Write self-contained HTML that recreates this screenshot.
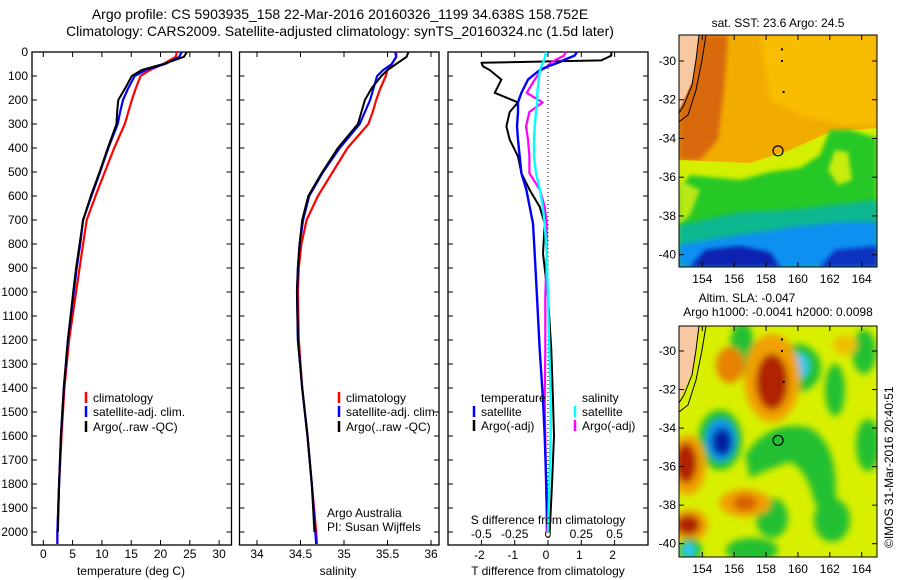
<!DOCTYPE html>
<html><head><meta charset="utf-8"><style>
body{margin:0;background:#fff}
svg{display:block;font-family:"Liberation Sans",sans-serif}
</style></head><body>
<svg id="fig" width="900" height="580" viewBox="0 0 900 580">
<defs>
<filter id="blur6" x="-50%" y="-50%" width="200%" height="200%"><feGaussianBlur stdDeviation="3.5"/></filter>
<filter id="blur3"><feGaussianBlur stdDeviation="2"/></filter>
<clipPath id="clipMap1"><rect x="679" y="35" width="198" height="232"/></clipPath>
<clipPath id="clipMap2"><rect x="679" y="326" width="198" height="231"/></clipPath>
</defs>
<text x="340" y="19" font-size="14" text-anchor="middle">Argo profile: CS 5903935_158 22-Mar-2016 20160326_1199 34.638S 158.752E</text>
<text x="340" y="36" font-size="14" text-anchor="middle">Climatology: CARS2009. Satellite-adjusted climatology: synTS_20160324.nc (1.5d later)</text>
<g id="p1"></g>
<g id="p2"></g>
<g id="p3"></g>

<!-- Map 1 SST -->
<g>
<g clip-path="url(#clipMap1)">
<rect x="679" y="35" width="198" height="232" fill="#f2ac00"/>
<polygon points="679,35 728,35 724,90 718,140 700,160 679,160" fill="#d86a10" filter="url(#blur3)"/>
<polygon points="760,35 877,35 877,125 840,125 800,115 770,100" fill="#f8bc00" filter="url(#blur3)"/>
<polygon points="679,160 750,163 790,150 830,132 877,128 877,267 679,267" fill="#d4f000"/>
<polygon points="690,175 740,180 770,172 800,168 820,155 830,130 850,130 877,138 877,267 679,267 679,190" fill="#28c828" filter="url(#blur3)"/>
<polygon points="835,150 848,152 852,180 838,185 828,170" fill="#c8ec10" filter="url(#blur3)"/>
<polygon points="679,180 700,190 690,215 679,225" fill="#b8e818" filter="url(#blur3)"/>
<polygon points="679,225 740,212 790,210 830,205 877,200 877,267 679,267" fill="#10b890" filter="url(#blur3)"/>
<polygon points="679,245 720,238 760,232 800,226 840,222 877,222 877,267 679,267" fill="#1090f0" filter="url(#blur3)"/>
<polygon points="690,267 705,250 740,246 770,252 780,267" fill="#1020b0" filter="url(#blur3)"/>
<polygon points="820,267 835,250 877,246 877,267" fill="#1030c0" filter="url(#blur3)"/>
<polygon points="679,35 699,35 693,80 679,110" fill="#f8c8a0"/>
<polyline points="699,35 696,60 692,85 684,105 679,113" fill="none" stroke="#000" stroke-width="1"/>
<polyline points="706,35 702,60 696,90 688,115 679,122" fill="none" stroke="#000" stroke-width="1"/>
</g>
<rect x="679" y="35" width="198" height="232" fill="none" stroke="#000"/>
<text x="778" y="27" font-size="12" text-anchor="middle">sat. SST: 23.6 Argo: 24.5</text>
</g>

<!-- Map 2 SLA -->
<g>
<g clip-path="url(#clipMap2)">
<rect x="679" y="326" width="198" height="231" fill="#d8f000"/>
<g filter="url(#blur6)">
<ellipse cx="742" cy="348" rx="12" ry="26" fill="#20c030"/>
<ellipse cx="797" cy="368" rx="24" ry="24" fill="#20c030"/>
<ellipse cx="797" cy="366" rx="12" ry="13" fill="#40c8f0"/>
<ellipse cx="864" cy="352" rx="12" ry="22" fill="#20c030"/>
<ellipse cx="835" cy="390" rx="10" ry="26" fill="#20c030"/>
<ellipse cx="868" cy="445" rx="12" ry="26" fill="#20c030"/>
<path d="M745,455 Q770,418 810,428 Q840,445 835,505 L815,505 Q808,470 790,462 Q770,468 750,478 Z" fill="#20c030"/>
<ellipse cx="772" cy="518" rx="16" ry="20" fill="#20c030"/>
<ellipse cx="832" cy="520" rx="18" ry="22" fill="#20c030"/>
<ellipse cx="752" cy="550" rx="26" ry="12" fill="#20c030"/>
<ellipse cx="720" cy="440" rx="22" ry="30" fill="#20c030"/>
<ellipse cx="721" cy="440" rx="15" ry="21" fill="#1090f0"/>
<ellipse cx="722" cy="442" rx="10" ry="14" fill="#0020a0"/>
<ellipse cx="772" cy="378" rx="28" ry="44" fill="#f0a000"/>
<ellipse cx="772" cy="382" rx="16" ry="28" fill="#b02000"/>
<ellipse cx="730" cy="365" rx="14" ry="18" fill="#e88000"/>
<ellipse cx="688" cy="465" rx="18" ry="30" fill="#f0a000"/>
<ellipse cx="686" cy="463" rx="11" ry="20" fill="#b02000"/>
<ellipse cx="745" cy="503" rx="26" ry="14" fill="#f0a000"/>
<ellipse cx="745" cy="503" rx="12" ry="8" fill="#d86000"/>
<ellipse cx="690" cy="525" rx="18" ry="16" fill="#f0a000"/>
<ellipse cx="688" cy="525" rx="12" ry="10" fill="#b02000"/>
<ellipse cx="845" cy="345" rx="12" ry="10" fill="#f0c000"/>
<ellipse cx="690" cy="550" rx="12" ry="12" fill="#20c030"/>
<ellipse cx="689" cy="550" rx="6" ry="7" fill="#30c8f8"/>
</g>
<polygon points="679,326 699,326 693,370 679,400" fill="#f8c8a0"/>
<polyline points="699,326 696,350 692,375 684,395 679,403" fill="none" stroke="#000" stroke-width="1"/>
<polyline points="706,326 702,350 696,380 688,405 679,412" fill="none" stroke="#000" stroke-width="1"/>
</g>
<rect x="679" y="326" width="198" height="231" fill="none" stroke="#000"/>
<text x="747" y="302" font-size="12" text-anchor="middle">Altim. SLA: -0.047</text>
<text x="778" y="316" font-size="12" text-anchor="middle">Argo h1000: -0.0041 h2000: 0.0098</text>
</g>
<text x="0" y="0" font-size="12" transform="translate(893,548) rotate(-90)">©IMOS 31-Mar-2016 20:40:51</text>
<g id="mapAxes"></g>
</svg>
<script>
// ---- data ----
const depths = [0,20,50,75,100,150,200,250,300,400,500,600,700,800,900,1000,1200,1400,1600,1800,2000,2050];
const tempClim = [22.8,22.6,20.5,18.2,16.6,15.8,15.1,14.5,13.9,12.1,10.5,8.9,7.4,6.8,6.2,5.6,4.4,3.6,3.1,2.7,2.4,2.4];
const tempSat  = [23.6,23.2,20.8,17.5,15.6,14.5,13.6,13.1,12.7,11.1,9.7,8.2,6.8,6.3,5.7,5.2,4.2,3.5,3.0,2.7,2.4,2.4];
const tempArgo = [24.5,24.0,20.5,16.8,15.1,14.0,12.8,12.6,12.5,11.0,9.6,8.1,6.8,6.2,5.6,5.1,4.2,3.5,3.0,2.7,2.5,2.5];
const salClim = [35.6,35.6,35.55,35.5,35.48,35.42,35.37,35.33,35.28,35.04,34.87,34.7,34.57,34.51,34.48,34.47,34.48,34.52,34.58,34.63,34.68,34.69];
const salSat  = [35.59,35.6,35.55,35.45,35.38,35.34,35.3,35.24,35.18,34.95,34.76,34.6,34.53,34.49,34.47,34.46,34.47,34.52,34.58,34.63,34.67,34.68];
const salArgo = [35.74,35.72,35.6,35.5,35.43,35.32,35.24,35.2,35.16,34.93,34.75,34.59,34.52,34.49,34.47,34.46,34.47,34.52,34.58,34.63,34.66,34.66];
const diffDepths = [0,15,35,45,60,75,115,170,210,250,310,365,435,505,575,645,715,840,1020,1240,1450,1600,1800,2000];
const tDiffArgo = [1.9,1.9,1.6,-2.0,-1.95,-1.75,-1.4,-1.6,-0.9,-1.15,-1.25,-1.15,-0.9,-0.8,-0.55,-0.25,-0.1,-0.15,0.0,0.1,0.15,0.18,0.12,0.05];
const tDiffSat  = [0.87,0.8,0.45,0.3,0.0,-0.25,-0.6,-0.8,-0.9,-0.9,-0.93,-0.9,-0.85,-0.8,-0.65,-0.55,-0.45,-0.4,-0.33,-0.25,-0.15,-0.1,-0.05,0.0];
const sDiffArgo = [0.135,0.12,0.05,0.02,0.0,-0.05,-0.1,-0.16,-0.04,-0.14,-0.165,-0.15,-0.14,-0.14,-0.06,-0.025,-0.01,-0.01,-0.02,-0.02,-0.025,-0.02,-0.015,-0.01];
const sDiffSat  = [-0.015,-0.02,-0.03,-0.04,-0.05,-0.06,-0.07,-0.08,-0.08,-0.09,-0.1,-0.105,-0.105,-0.09,-0.06,-0.04,-0.025,-0.01,0.0,0.01,0.02,0.02,0.01,0.0];
const depthTicks = [0,100,200,300,400,500,600,700,800,900,1000,1100,1200,1300,1400,1500,1600,1700,1800,1900,2000];
const tempTicks = [0,5,10,15,20,25,30];
const salTicks = [34,34.5,35,35.5,36];
const tDiffTicks = [-2,-1,0,1,2];
const sDiffTicks = [-0.5,-0.25,0,0.25,0.5];
const lonTicks = [154,156,158,160,162,164];
const latTicks = [-30,-32,-34,-36,-38,-40];
const floatPos = [158.752,-34.638];

const NS='http://www.w3.org/2000/svg';
function mk(tag,attrs,parent){const e=document.createElementNS(NS,tag);for(const k in attrs)e.setAttribute(k,attrs[k]);parent.appendChild(e);return e;}
const yD = d => 52 + d*0.24;
const TOP=52, BOT=545;
const xT = t => 43.3 + t*5.86;
const xS = s => 257 + (s-34)*87;
const xDT = t => 548 + t*33.3;
const xDS = s => xDT(s*4);

function frame(g,x0,x1){
  const r=mk('rect',{x:x0,y:TOP,width:x1-x0,height:BOT-TOP,fill:'none',stroke:'#000','stroke-width':1.3},g);
  
  
  depthTicks.forEach(d=>{
    mk('line',{x1:x0,x2:x0+5,y1:yD(d),y2:yD(d),stroke:'#000'},g);
    mk('line',{x1:x1-5,x2:x1,y1:yD(d),y2:yD(d),stroke:'#000'},g);
  });
}
function xticks(g,ticks,fx,y,labelY){
  ticks.forEach(t=>{
    mk('line',{x1:fx(t),x2:fx(t),y1:TOP,y2:TOP+5,stroke:'#000'},g);
    mk('line',{x1:fx(t),x2:fx(t),y1:BOT-5,y2:BOT,stroke:'#000'},g);
    const tx=mk('text',{x:fx(t),y:labelY,'font-size':12,'text-anchor':'middle'},g);
    tx.textContent=String(t);
    
    
  });
}
function line(g,xs,ds,fx,color,w,name){
  const pts=xs.map((v,i)=>fx(v).toFixed(1)+','+yD(ds[i]).toFixed(1)).join(' ');
  const p=mk('polyline',{points:pts,fill:'none',stroke:color,'stroke-width':w,'stroke-linejoin':'round'},g);
  
  
}
function label(g,x,y,txt,name,anchor){
  const t=mk('text',{x:x,y:y,'font-size':12,'text-anchor':anchor||'start'},g);
  t.textContent=txt;
  
  
  return t;
}
function legend(g,x,y,color,txt,name){
  const l=mk('line',{x1:x,x2:x,y1:y-10,y2:y+1,stroke:color,'stroke-width':2.5},g);
  
  
  label(g,x+7,y,txt,name);
}

// panel 1
const p1=document.getElementById('p1');
frame(p1,32,231.5);
depthTicks.forEach(d=>{label(p1,28,yD(d)+4,String(d),'y-tick-label','end');});
xticks(p1,tempTicks,xT,545,558);
line(p1,tempClim,depths,xT,'#ff0000',2.2,'temp-climatology-line');
line(p1,tempSat,depths,xT,'#0000ff',2.2,'temp-satellite-line');
line(p1,tempArgo.slice(0,-1),depths.slice(0,-1),xT,'#000000',2,'temp-argo-line');
label(p1,131,575,'temperature (deg C)','x-axis-title-temperature','middle');
legend(p1,86,402,'#ff0000','climatology','legend-climatology');
legend(p1,86,416,'#0000ff','satellite-adj. clim.','legend-satellite');
legend(p1,86,431,'#000000','Argo(..raw -QC)','legend-argo');

// panel 2
const p2=document.getElementById('p2');
frame(p2,239.5,439);
xticks(p2,salTicks,xS,545,558);
line(p2,salClim,depths,xS,'#ff0000',2.2,'sal-climatology-line');
line(p2,salSat,depths,xS,'#0000ff',2.2,'sal-satellite-line');
line(p2,salArgo.slice(0,-1),depths.slice(0,-1),xS,'#000000',2,'sal-argo-line');
label(p2,338,575,'salinity','x-axis-title-salinity','middle');
legend(p2,339,402,'#ff0000','climatology','legend-climatology-2');
legend(p2,339,416,'#0000ff','satellite-adj. clim.','legend-satellite-2');
legend(p2,339,431,'#000000','Argo(..raw -QC)','legend-argo-2');
label(p2,327,517,'Argo Australia','credit-argo-australia');
label(p2,327,531,'PI: Susan Wijffels','credit-pi');

// panel 3
const p3=document.getElementById('p3');
frame(p3,448,648);
mk('line',{x1:xDT(0),x2:xDT(0),y1:TOP,y2:BOT,stroke:'#000','stroke-dasharray':'1,3'},p3);
tDiffTicks.forEach(t=>{
  mk('line',{x1:xDT(t),x2:xDT(t),y1:TOP,y2:TOP+5,stroke:'#000'},p3);
  mk('line',{x1:xDT(t),x2:xDT(t),y1:BOT-5,y2:BOT,stroke:'#000'},p3);
  label(p3,xDT(t)-2,559,String(t),'t-diff-tick-label','middle');
});
sDiffTicks.forEach(s=>{label(p3,xDS(s),538,String(s),'s-diff-tick-label','middle');});
line(p3,tDiffArgo,diffDepths,xDT,'#000000',2,'tdiff-argo-line');
line(p3,sDiffArgo,diffDepths,xDS,'#ff00ff',2.2,'sdiff-argo-line');
line(p3,tDiffSat,diffDepths,xDT,'#0000ff',2.4,'tdiff-satellite-line');
line(p3,sDiffSat,diffDepths,xDS,'#00ffff',2.4,'sdiff-satellite-line');
label(p3,548,524,'S difference from climatology','s-diff-axis-title','middle');
label(p3,548,575,'T difference from climatology','t-diff-axis-title','middle');
label(p3,481,402,'temperature','legend-temperature-heading');
legend(p3,474,416,'#0000ff','satellite','legend-t-satellite');
legend(p3,474,430,'#000000','Argo(-adj)','legend-t-argo');
label(p3,582,402,'salinity','legend-salinity-heading');
legend(p3,575,416,'#00ffff','satellite','legend-s-satellite');
legend(p3,575,430,'#ff00ff','Argo(-adj)','legend-s-argo');

// map axes
const ma=document.getElementById('mapAxes');
const xLon = l => 702.3 + (l-154)*15.94;
function mapAxes(yTop,yBot,lat30,lat40,lonLabelY){
  latTicks.forEach(la=>{
    const y = lat30 + ((-30)-la)/10*(lat40-lat30);
    mk('line',{x1:679,x2:684,y1:y,y2:y,stroke:'#000'},ma);
    mk('line',{x1:872,x2:877,y1:y,y2:y,stroke:'#000'},ma);
    label(ma,676,y+4,String(la),'map-lat-label','end');
  });
  lonTicks.forEach(lo=>{
    const x=xLon(lo);
    mk('line',{x1:x,x2:x,y1:yTop,y2:yTop+5,stroke:'#000'},ma);
    mk('line',{x1:x,x2:x,y1:yBot-5,y2:yBot,stroke:'#000'},ma);
    label(ma,x,lonLabelY,String(lo),'map-lon-label','middle');
  });
  const fy = lat30 + ((-30)-floatPos[1])/10*(lat40-lat30);
  const c=mk('circle',{cx:xLon(floatPos[0]),cy:fy,r:5,fill:'none',stroke:'#000','stroke-width':1.2},ma);
  
  
  [[159,-29.4],[159,-30],[159.1,-31.6]].forEach(p=>{
    mk('rect',{x:xLon(p[0])-1,y:lat30+((-30)-p[1])/10*(lat40-lat30)-1,width:2,height:2,fill:'#000'},ma);
  });
}
mapAxes(35,267,61,254.7,283);
mapAxes(326,557,351,543.7,573);
</script>
</body></html>
